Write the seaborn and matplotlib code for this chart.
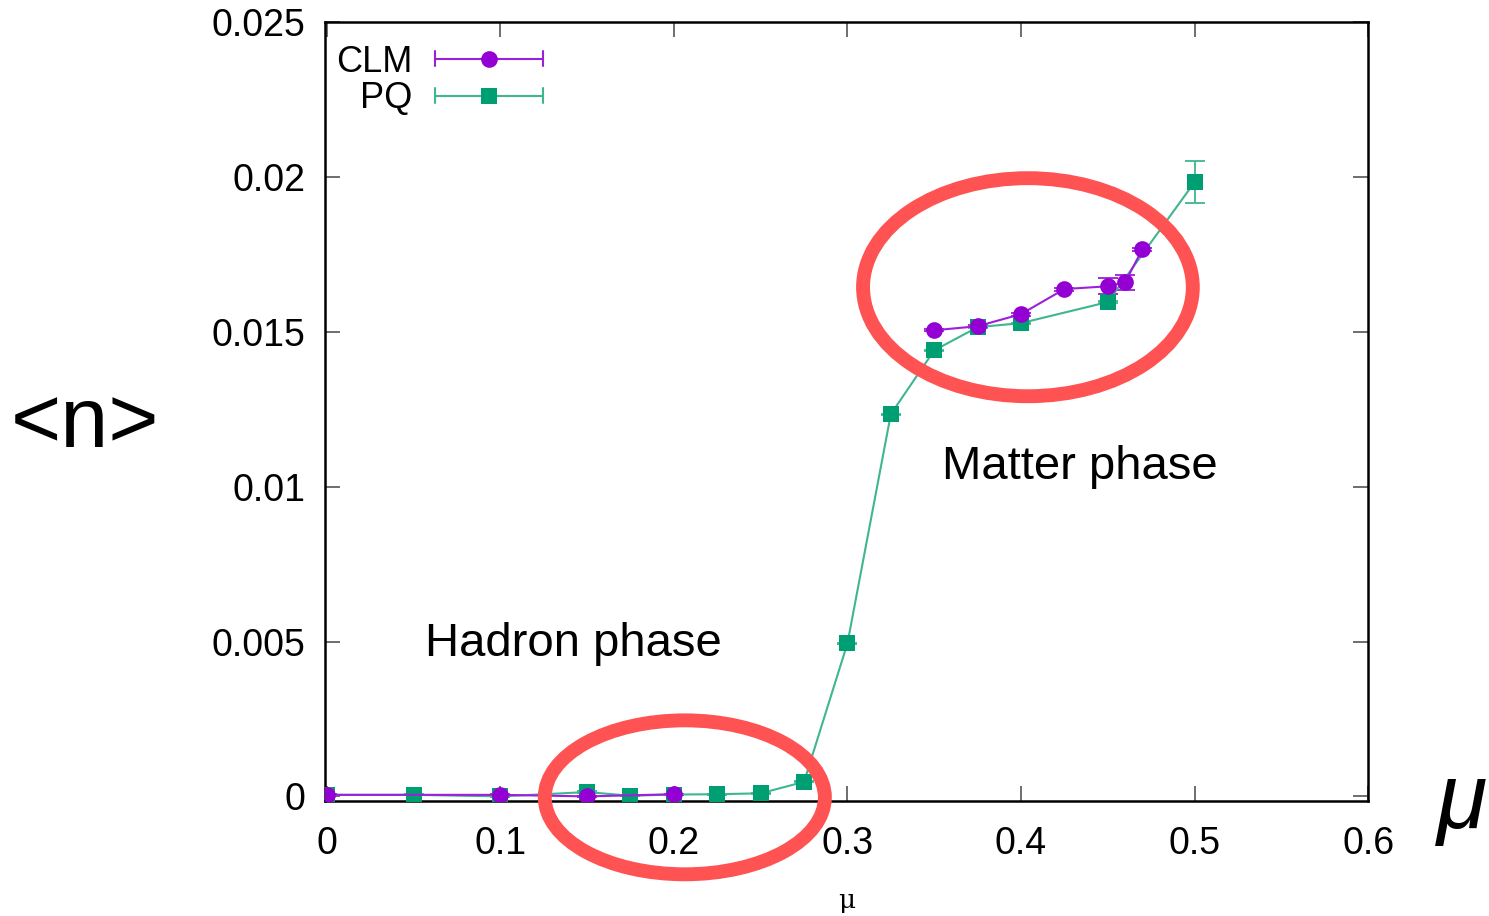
import numpy as np
import pandas as pd
import matplotlib
matplotlib.use("Agg")
import matplotlib.pyplot as plt
import seaborn as sns
from matplotlib.patches import Ellipse
from matplotlib.lines import Line2D
from matplotlib.legend_handler import HandlerBase

# ---------------- data ----------------
# CLM data come in two separate blocks (no line joining them)
mu_clm = [0.0, 0.1, 0.15, 0.2, 0.35, 0.375, 0.4, 0.425, 0.45, 0.46, 0.47]
n_clm = [0.00005, 0.00005, 0.0, 0.00007, 0.01505, 0.01518, 0.01557, 0.01638, 0.01647, 0.0166, 0.01767]
err_clm = [0.00002, 0.00002, 0.00002, 0.00002, 0.00004, 0.00004, 0.00005, 0.00005, 0.00026, 0.00024, 0.00005]
block_clm = [0, 0, 0, 0, 1, 1, 1, 1, 1, 1, 1]

mu_pq = [0.0, 0.05, 0.1, 0.15, 0.175, 0.2, 0.225, 0.25, 0.275, 0.3, 0.325, 0.35, 0.375, 0.4, 0.45, 0.5]
n_pq = [0.00005, 0.00005, 0.0, 0.00014, 0.00002, 0.00006, 0.00007, 0.0001, 0.00047,
        0.00494, 0.01234, 0.0144, 0.01515, 0.01528, 0.01596, 0.01983]
err_pq = [0.00002] * 15 + [0.00068]
block_pq = [0] * 16

xticks = [0.0, 0.1, 0.2, 0.3, 0.4, 0.5, 0.6]
xticklabels = ["0", "0.1", "0.2", "0.3", "0.4", "0.5", "0.6"]
yticks = [0.0, 0.005, 0.01, 0.015, 0.02, 0.025]
yticklabels = ["0", "0.005", "0.01", "0.015", "0.02", "0.025"]

methods = ["CLM", "PQ"]
colors = {"CLM": "#9400D3", "PQ": "#009E73"}
line_colors = {"CLM": "#9d1fd8", "PQ": "#3fb590"}
markers = {"CLM": "o", "PQ": "s"}
msizes = {"CLM": 12, "PQ": 11.5}

df = pd.concat([
    pd.DataFrame({"mu": mu_pq, "n": n_pq, "err": err_pq, "block": block_pq, "method": "PQ"}),
    pd.DataFrame({"mu": mu_clm, "n": n_clm, "err": err_clm, "block": block_clm, "method": "CLM"}),
], ignore_index=True)

# ---------------- figure ----------------
sns.set_theme(style="ticks")
plt.rcParams["font.family"] = ["Liberation Sans", "DejaVu Sans"]
plt.rcParams["text.color"] = "black"
plt.rcParams["axes.labelcolor"] = "black"
plt.rcParams["xtick.color"] = "black"
plt.rcParams["ytick.color"] = "black"

fig = plt.figure(figsize=(14.89, 9.16), dpi=100)
ax = fig.add_axes([0.2183, 0.1255, 0.7005, 0.8504])

# error bars first
for m in ["PQ", "CLM"]:
    d = df[df["method"] == m]
    ax.errorbar(d["mu"], d["n"], yerr=d["err"], fmt="none", ecolor=line_colors[m],
                elinewidth=1.3, capsize=7, capthick=1.3, zorder=2)

# lines + markers via seaborn (PQ first, CLM on top)
for m in ["PQ", "CLM"]:
    d = df[df["method"] == m]
    sns.lineplot(data=d, x="mu", y="n", units="block", estimator=None, ax=ax,
                 color=line_colors[m], linewidth=1.5,
                 marker=markers[m], markersize=msizes[m],
                 markerfacecolor=colors[m], markeredgecolor=colors[m], markeredgewidth=0,
                 sort=True, legend=False, zorder=3)

ax.set_xlim(-0.001, 0.6)
ax.set_ylim(-0.00015, 0.025)
ax.set_xticks(xticks)
ax.set_xticklabels(xticklabels)
ax.set_yticks(yticks)
ax.set_yticklabels(yticklabels)
ax.tick_params(direction="in", length=11, width=1.2, color="#555555", labelsize=27,
               top=True, right=True, labelcolor="black")
ax.tick_params(axis="x", pad=18)
ax.tick_params(axis="y", pad=14)
for s in ax.spines.values():
    s.set_linewidth(1.8)
    s.set_color("black")
ax.set_xlabel("μ", family="DejaVu Serif", fontsize=19, labelpad=19, color="black")
ax.set_ylabel("")

# ---------------- legend (gnuplot-like horizontal error bars) ----------------
class HandlerXErr(HandlerBase):
    def __init__(self, mcolor, lcolor, marker, ms):
        super().__init__()
        self.mcolor, self.lcolor, self.marker, self.ms = mcolor, lcolor, marker, ms

    def create_artists(self, legend, orig_handle, xdescent, ydescent, width, height, fontsize, trans):
        x0, x1 = -xdescent, width - xdescent
        yc = (height - ydescent) / 2.0
        h = 5.4
        arts = [
            Line2D([x0, x1], [yc, yc], color=self.lcolor, lw=1.5),
            Line2D([x0, x0], [yc - h, yc + h], color=self.lcolor, lw=1.5),
            Line2D([x1, x1], [yc - h, yc + h], color=self.lcolor, lw=1.5),
            Line2D([(x0 + x1) / 2], [yc], marker=self.marker, ms=self.ms, ls="none",
                   markerfacecolor=self.mcolor, markeredgewidth=0),
        ]
        for a in arts:
            a.set_transform(trans)
        return arts

handles = [Line2D([], [], label=m) for m in methods]
hmap = {h: HandlerXErr(colors[m], line_colors[m], markers[m], msizes[m])
        for h, m in zip(handles, methods)}
leg = ax.legend(handles=handles, labels=methods, handler_map=hmap, loc="upper left",
                bbox_to_anchor=(0.0, 0.985), borderaxespad=0.0, borderpad=0.3, frameon=False,
                markerfirst=False, handlelength=3.0, handletextpad=0.62, labelspacing=0.05,
                fontsize=26)
for t in leg.get_texts():
    t.set_color("black")

# ---------------- annotations ----------------
red = "#ff5252"
ax.add_patch(Ellipse((0.404, 0.01644), 0.190, 0.00704, fill=False, edgecolor=red,
                     linewidth=10, zorder=5, clip_on=False))
ax.add_patch(Ellipse((0.2063, -0.00003), 0.1614, 0.00497, fill=False, edgecolor=red,
                     linewidth=10, zorder=5, clip_on=False))
ax.text(0.434, 0.01063, "Matter phase", fontsize=34, ha="center", va="center", color="black")
ax.text(0.1418, 0.00491, "Hadron phase", fontsize=34, ha="center", va="center", color="black")

fig.text(0.057, 0.536, "<n>", fontsize=62, ha="center", va="center", color="black")
fig.text(0.982, 0.122, "μ", fontsize=66, style="italic", ha="center", va="center", color="black")

fig.savefig("out.png", dpi=100)
